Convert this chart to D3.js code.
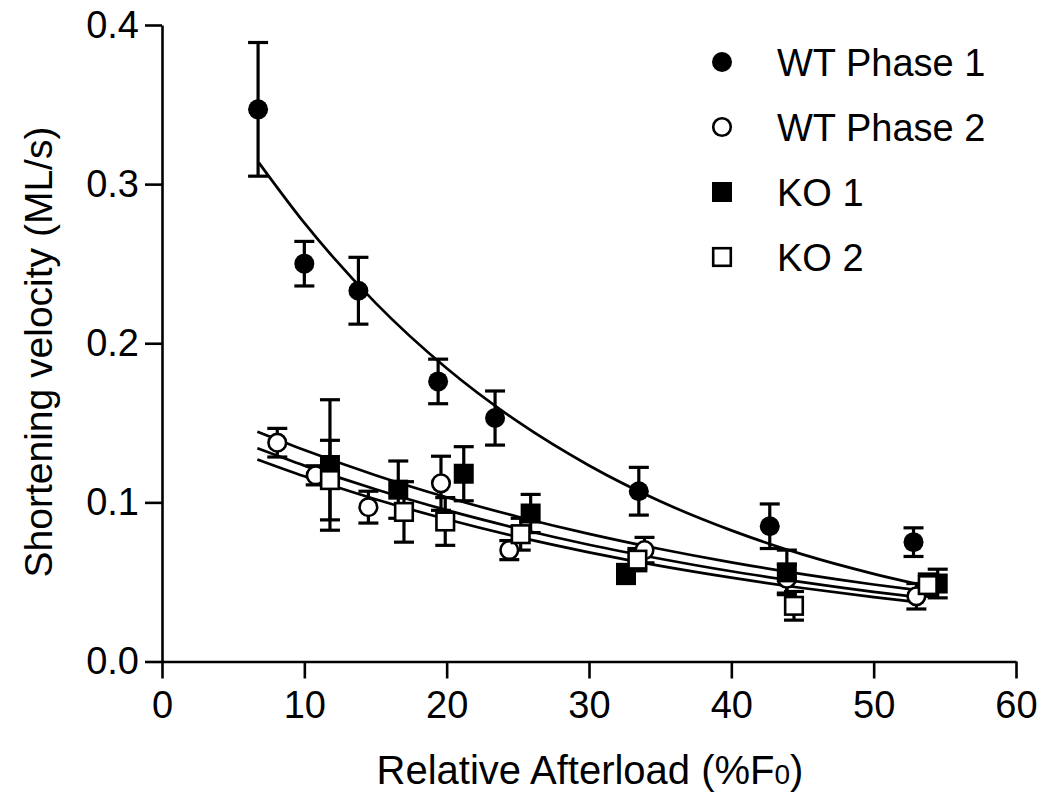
<!DOCTYPE html>
<meta charset="utf-8">
<script src="https://cdn.jsdelivr.net/npm/d3@7"></script>
<style>
body { margin: 0; background: #fff; }
text { font-family: "Liberation Sans", Arial, sans-serif; fill: #000; }
</style>
<body>
<script>

var width = 1042
var height = 796

// data
var seriesNames = ["WT Phase 1", "WT Phase 2", "KO 1", "KO 2"]

var wt1X = [6.75, 10.0, 13.8, 19.4, 23.4, 33.5, 42.7, 52.8]
var wt1Y = [0.347, 0.250, 0.233, 0.176, 0.153, 0.107, 0.085, 0.075]
var wt1Err = [0.042, 0.014, 0.021, 0.014, 0.017, 0.015, 0.014, 0.009]

var wt2X = [8.1, 10.8, 14.5, 19.6, 24.4, 33.9, 43.9, 53.0]
var wt2Y = [0.1375, 0.117, 0.097, 0.112, 0.070, 0.070, 0.052, 0.041]
var wt2Err = [0.009, 0.006, 0.010, 0.017, 0.006, 0.008, 0.009, 0.008]

var ko1X = [11.8, 16.6, 21.2, 25.9, 32.6, 43.9, 54.5]
var ko1Y = [0.1235, 0.108, 0.118, 0.093, 0.055, 0.056, 0.049]
var ko1Err = [0.041, 0.018, 0.017, 0.012, 0.006, 0.014, 0.009]

var ko2X = [11.8, 17.0, 19.9, 25.2, 33.4, 44.4, 53.8]
var ko2Y = [0.114, 0.094, 0.088, 0.080, 0.064, 0.035, 0.048]
var ko2Err = [0.025, 0.019, 0.015, 0.010, 0.007, 0.009, 0.007]

// fitted curves, points
var wt1FitX = [6.8, 10, 15, 20, 25, 30, 35, 40, 45, 50, 53]
var wt1FitY = [0.3135, 0.2756, 0.2254, 0.1843, 0.1507, 0.1232, 0.1007, 0.0824, 0.0673, 0.0551, 0.0488]
var lowFitX = [6.7, 10, 15, 20, 25, 30, 35, 40, 45, 50, 53.1]
var fitTopY = [0.1444, 0.1329, 0.1171, 0.1032, 0.0910, 0.0802, 0.0707, 0.0623, 0.0549, 0.0484, 0.0448]
var fitMidY = [0.1340, 0.1231, 0.1082, 0.0951, 0.0836, 0.0734, 0.0646, 0.0567, 0.0499, 0.0438, 0.0405]
var fitLowY = [0.1270, 0.1164, 0.1020, 0.0894, 0.0783, 0.0686, 0.0601, 0.0527, 0.0462, 0.0405, 0.0373]

var xTicks = [0, 10, 20, 30, 40, 50, 60]
var yTicks = [0.0, 0.1, 0.2, 0.3, 0.4]

var x = d3.scaleLinear().domain([0, 60]).range([162, 1016])
var y = d3.scaleLinear().domain([0, 0.4]).range([661.5, 25])

var svg = d3.select("body").append("svg")
    .attr("width", width)
    .attr("height", height)

function zipPts(xs, ys, es) {
  return xs.map(function(d, i) { return {x: d, y: ys[i], e: es ? es[i] : 0} })
}

var series = [
  {name: seriesNames[0], shape: "circle", fill: "#000", pts: zipPts(wt1X, wt1Y, wt1Err)},
  {name: seriesNames[1], shape: "circle", fill: "#fff", pts: zipPts(wt2X, wt2Y, wt2Err)},
  {name: seriesNames[2], shape: "square", fill: "#000", pts: zipPts(ko1X, ko1Y, ko1Err)},
  {name: seriesNames[3], shape: "square", fill: "#fff", pts: zipPts(ko2X, ko2Y, ko2Err)}
]

var fits = [
  zipPts(wt1FitX, wt1FitY),
  zipPts(lowFitX, fitTopY),
  zipPts(lowFitX, fitMidY),
  zipPts(lowFitX, fitLowY)
]

// axes
var xAxis = svg.append("g")
    .attr("transform", "translate(0," + y(0) + ")")
    .call(d3.axisBottom(x).tickValues(xTicks).tickSize(17).tickSizeOuter(0).tickPadding(13))
var yAxis = svg.append("g")
    .attr("transform", "translate(" + x(0) + ",0)")
    .call(d3.axisLeft(y).tickValues(yTicks).tickSize(17).tickSizeOuter(0).tickPadding(6).tickFormat(d3.format(".1f")))

svg.selectAll(".domain, .tick line").attr("stroke", "#000").attr("stroke-width", 2.6)
svg.selectAll(".tick text").style("font-size", "38px").attr("fill", "#000")
xAxis.selectAll(".tick text").attr("dy", "0.71em")

// fitted lines
var line = d3.line().x(function(d) { return x(d.x) }).y(function(d) { return y(d.y) }).curve(d3.curveMonotoneX)
svg.append("g").selectAll("path").data(fits).enter().append("path")
    .attr("d", line)
    .attr("fill", "none")
    .attr("stroke", "#000")
    .attr("stroke-width", 2.7)

// error bars
var capW = 10
var bars = svg.append("g").attr("stroke", "#000").attr("stroke-width", 3.2)
series.forEach(function(s) {
  s.pts.forEach(function(p) {
    var cx = x(p.x), y1 = y(p.y + p.e), y2 = y(p.y - p.e)
    bars.append("line").attr("x1", cx).attr("x2", cx).attr("y1", y1).attr("y2", y2)
    bars.append("line").attr("x1", cx - capW).attr("x2", cx + capW).attr("y1", y1).attr("y2", y1)
    bars.append("line").attr("x1", cx - capW).attr("x2", cx + capW).attr("y1", y2).attr("y2", y2)
  })
})

// markers
function drawMarker(g, shape, fill, cx, cy) {
  var solid = fill == "#000"
  if (shape == "circle") {
    g.append("circle").attr("cx", cx).attr("cy", cy).attr("r", solid ? 10 : 8.8)
        .attr("fill", fill).attr("stroke", "#000").attr("stroke-width", solid ? 0 : 2.6)
  } else {
    var h = solid ? 10 : 8.8
    g.append("rect").attr("x", cx - h).attr("y", cy - h).attr("width", 2 * h).attr("height", 2 * h)
        .attr("fill", fill).attr("stroke", "#000").attr("stroke-width", solid ? 0 : 2.6)
  }
}

var marks = svg.append("g")
series.forEach(function(s) {
  s.pts.forEach(function(p) { drawMarker(marks, s.shape, s.fill, x(p.x), y(p.y)) })
})

// legend
var legend = svg.append("g")
series.forEach(function(s, i) {
  var ly = 62 + i * 65
  drawMarker(legend, s.shape, s.fill, 722, ly)
  legend.append("text")
      .attr("x", 777)
      .attr("y", ly + 14)
      .style("font-size", "38px")
      .text(s.name)
})

// axis titles
var xt = svg.append("text")
    .attr("x", 590)
    .attr("y", 784)
    .attr("text-anchor", "middle")
    .style("font-size", "40px")
xt.append("tspan").text("Relative Afterload (%F")
xt.append("tspan").style("font-size", "28px").text("0")
xt.append("tspan").text(")")

svg.append("text")
    .attr("transform", "translate(52,352) rotate(-90)")
    .attr("text-anchor", "middle")
    .style("font-size", "39px")
    .text("Shortening velocity (ML/s)")

</script>
</body>
